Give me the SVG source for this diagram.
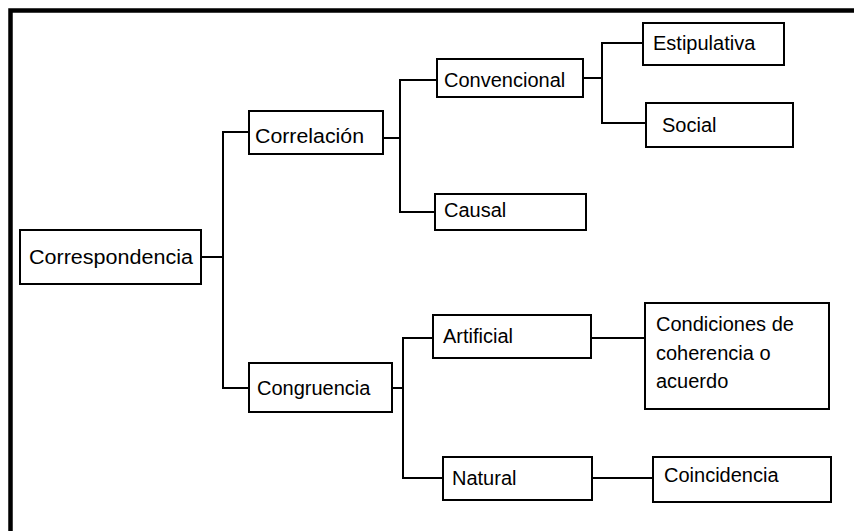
<svg xmlns="http://www.w3.org/2000/svg" width="854" height="531" viewBox="0 0 854 531">
<style>
.box{fill:#fff;stroke:#000;stroke-width:2}
.lbl{font-family:"Liberation Sans",Arial,sans-serif;font-size:20px;fill:#000}
.conn{fill:none;stroke:#000;stroke-width:2}
.frame{fill:none;stroke:#000;stroke-width:4.5}
</style>
<rect width="854" height="531" fill="#fff"/>
<path class="frame" d="M10.5,531 V10.5 H854"/>
<g id="connectors">
<path class="conn" d="M201,257 H223 M249,132 H223 V388 H249"/>
<path class="conn" d="M383,138 H400 M437,80 H400 V212 H435"/>
<path class="conn" d="M392,388 H403 M433,338 H403 V478 H443"/>
<path class="conn" d="M583,78 H602 M643,43 H602 V123 H646"/>
<path class="conn" d="M591,338 H645"/>
<path class="conn" d="M592,478 H653"/>
</g>
<g id="n-correspondencia"><rect class="box" x="20" y="230" width="181" height="54"/><text class="lbl" x="29" y="264" textLength="164" lengthAdjust="spacingAndGlyphs">Correspondencia</text></g>
<g id="n-correlacion"><rect class="box" x="249" y="111" width="134" height="43"/><text class="lbl" x="255" y="143" textLength="109" lengthAdjust="spacingAndGlyphs">Correlación</text></g>
<g id="n-congruencia"><rect class="box" x="249" y="363" width="143" height="49"/><text class="lbl" x="257" y="395">Congruencia</text></g>
<g id="n-convencional"><rect class="box" x="437" y="59" width="146" height="38"/><text class="lbl" x="444" y="87">Convencional</text></g>
<g id="n-causal"><rect class="box" x="435" y="194" width="151" height="36"/><text class="lbl" x="444" y="217">Causal</text></g>
<g id="n-estipulativa"><rect class="box" x="643" y="23" width="141" height="42"/><text class="lbl" x="653" y="50">Estipulativa</text></g>
<g id="n-social"><rect class="box" x="646" y="103" width="147" height="44"/><text class="lbl" x="662" y="132">Social</text></g>
<g id="n-artificial"><rect class="box" x="433" y="315" width="158" height="43"/><text class="lbl" x="443" y="343">Artificial</text></g>
<g id="n-condiciones"><rect class="box" x="645" y="303" width="184" height="106"/><text class="lbl" x="656" y="331">Condiciones de</text><text class="lbl" x="656" y="360">coherencia o</text><text class="lbl" x="656" y="388">acuerdo</text></g>
<g id="n-natural"><rect class="box" x="443" y="457" width="149" height="43"/><text class="lbl" x="452" y="485">Natural</text></g>
<g id="n-coincidencia"><rect class="box" x="653" y="457" width="178" height="45"/><text class="lbl" x="664" y="482">Coincidencia</text></g>
</svg>
